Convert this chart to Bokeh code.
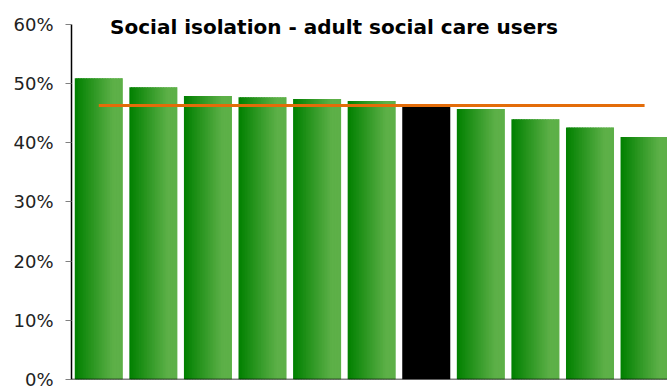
from bokeh.plotting import figure
from bokeh.models import Range1d, Span, Label, PrintfTickFormatter, FixedTicker
from bokeh.embed import file_html
from bokeh.resources import INLINE

# ---- data ----
title_text = "Social isolation - adult social care users"
areas = ["Area 1", "Area 2", "Area 3", "Area 4", "Area 5", "Area 6",
         "Selected area", "Area 8", "Area 9", "Area 10", "Area 11"]
values = [50.9, 49.4, 47.9, 47.7, 47.4, 47.05, 46.1, 45.7, 44.0, 42.6, 41.0]
highlight = [False, False, False, False, False, False, True, False, False, False, False]
average = 46.3
y_ticks = [0, 10, 20, 30, 40, 50, 60]

# ---- style ----
dark = (0, 128, 0)
light = (93, 176, 72)
bar_w = 0.88
n_strips = 30

p = figure(width=667, height=389, output_backend="svg", toolbar_location=None,
           x_axis_location=None, x_range=Range1d(-0.5, 10.42), y_range=Range1d(0, 64.05),
           min_border_left=71, min_border_right=0, min_border_top=0, min_border_bottom=10)
p.outline_line_color = None
p.grid.visible = False
p.background_fill_color = "white"
p.border_fill_color = "white"

lefts, rights, tops, bottoms, colors = [], [], [], [], []
sw = bar_w / n_strips
for i, (v, h) in enumerate(zip(values, highlight)):
    x0 = i - bar_w / 2
    if h:
        lefts.append(x0); rights.append(x0 + bar_w); tops.append(v); bottoms.append(0); colors.append("black")
        continue
    for k in range(n_strips):
        t = min(1.0, (k + 0.5) / n_strips / 0.8)
        c = tuple(int(round(dark[j] + (light[j] - dark[j]) * t)) for j in range(3))
        l = x0 + k * sw
        r = l + sw * (1.6 if k < n_strips - 1 else 1.0)
        lefts.append(l); rights.append(r); tops.append(v); bottoms.append(0)
        colors.append("#%02x%02x%02x" % c)

p.quad(left=lefts, right=rights, top=tops, bottom=bottoms, fill_color=colors, line_color=None)

p.line(x=[0, len(values) - 1], y=[average, average], line_color="#E36C09", line_width=3)

p.add_layout(Span(location=0, dimension="width", line_color="black", line_width=1.5))

ax = p.yaxis[0]
ax.ticker = FixedTicker(ticks=y_ticks)
ax.bounds = (0, 60)
ax.formatter = PrintfTickFormatter(format="%d%%")
ax.minor_tick_line_color = None
ax.major_tick_in = 0
ax.major_tick_out = 6
ax.major_tick_line_color = "#808080"
ax.axis_line_color = "black"
ax.axis_line_width = 1.5
ax.major_label_text_font = "DejaVu Sans"
ax.major_label_text_font_size = "18px"
ax.major_label_text_color = "#222222"
ax.major_label_standoff = 12

p.add_layout(Label(x=4.31, y=59.6, text=title_text, text_align="center",
                   text_baseline="alphabetic", text_font="DejaVu Sans",
                   text_font_style="bold", text_font_size="20px", text_color="black"))

open("out.html", "w").write(file_html(p, INLINE))
